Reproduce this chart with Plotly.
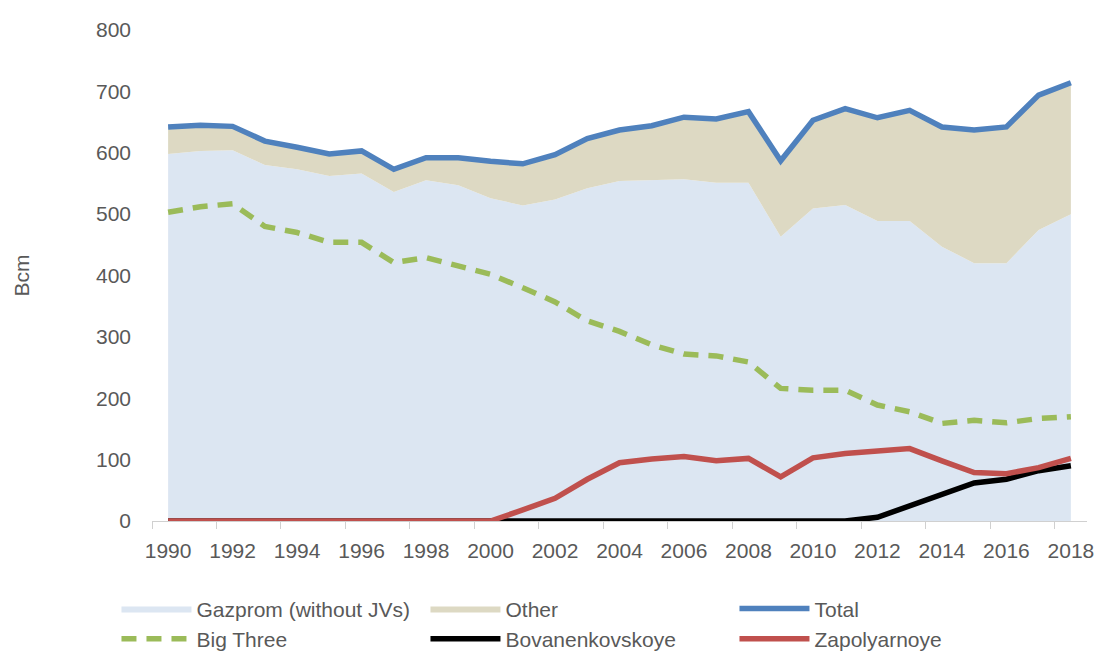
import plotly.graph_objects as go

years = list(range(1990, 2019))

# Bcm
gazprom = [598, 603, 604, 580, 573, 562, 566, 536, 555, 547, 526, 514, 524, 542, 554,
           556, 557, 551, 551, 463, 509, 515, 489, 489, 447, 420, 420, 474, 500]
other = [44, 42, 39, 39, 36, 36, 37, 37, 37, 45, 60, 68, 73, 81, 83,
         88, 101, 104, 116, 124, 144, 157, 168, 180, 195, 217, 222, 220, 214]
total = [642, 645, 643, 619, 609, 598, 603, 573, 592, 592, 586, 582, 597, 623, 637,
         644, 658, 655, 667, 587, 653, 672, 657, 669, 642, 637, 642, 694, 714]
big_three = [503, 512, 517, 480, 470, 454, 454, 421, 429, 415, 402, 380, 357, 326, 309,
             287, 272, 269, 259, 216, 213, 213, 189, 178, 159, 164, 160, 167, 170]
bovanenkovskoye = [0, 0, 0, 0, 0, 0, 0, 0, 0, 0, 0, 0, 0, 0, 0,
                   0, 0, 0, 0, 0, 0, 0, 6, 24, 44, 62, 68, 82, 90]
zapolyarnoye = [0, 0, 0, 0, 0, 0, 0, 0, 0, 0, 0, 18, 37, 68, 95,
                101, 105, 98, 102, 72, 103, 110, 113, 118, 98, 79, 77, 87, 102]

x_labels = [str(y) for y in range(1990, 2019, 2)]

FONT = 'Liberation Sans, Arial, sans-serif'
GREY = '#595959'

fig = go.Figure()

fig.add_trace(go.Scatter(
    x=years, y=gazprom, name='Gazprom (without JVs)', stackgroup='one',
    mode='lines', line=dict(width=0, color='#DCE6F2'), fillcolor='#DCE6F2'
))
fig.add_trace(go.Scatter(
    x=years, y=other, name='Other', stackgroup='one',
    mode='lines', line=dict(width=0, color='#DDD9C3'), fillcolor='#DDD9C3'
))
fig.add_trace(go.Scatter(
    x=years, y=total, name='Total', mode='lines',
    line=dict(color='#4F81BD', width=5.5)
))
fig.add_trace(go.Scatter(
    x=years, y=big_three, name='Big Three', mode='lines',
    line=dict(color='#9BBB59', width=5.5, dash='15px,10px')
))
fig.add_trace(go.Scatter(
    x=years, y=bovanenkovskoye, name='Bovanenkovskoye', mode='lines',
    line=dict(color='#000000', width=5.5)
))
fig.add_trace(go.Scatter(
    x=years, y=zapolyarnoye, name='Zapolyarnoye', mode='lines',
    line=dict(color='#C0504D', width=5.5)
))

fig.update_layout(
    width=1098, height=655,
    paper_bgcolor='white',
    plot_bgcolor='white',
    font=dict(family=FONT, color=GREY, size=21),
    margin=dict(l=152, r=11, t=30, b=134, autoexpand=False),
    xaxis=dict(
        range=[1989.5, 2018.5],
        tickmode='array',
        tickvals=[int(v) for v in x_labels],
        ticktext=x_labels,
        ticks='',
        ticklabelstandoff=11,
        showgrid=False,
        zeroline=False,
        showline=True,
        linecolor='#D0D0D0',
        linewidth=1,
        minor=dict(
            tickvals=[v - 0.5 for v in range(1990, 2019, 2)],
            ticks='outside', ticklen=7, tickcolor='#D0D0D0', showgrid=False
        ),
        tickfont=dict(size=21, color=GREY)
    ),
    yaxis=dict(
        range=[0, 800],
        dtick=100,
        showgrid=False,
        zeroline=False,
        showline=False,
        ticks='',
        ticklabelstandoff=20,
        tickfont=dict(size=21, color=GREY),
        title=dict(text='Bcm', font=dict(size=21, color=GREY), standoff=60)
    ),
    legend=dict(
        orientation='h',
        x=-0.038, xanchor='left',
        y=-0.137, yanchor='top',
        entrywidth=224, entrywidthmode='pixels',
        itemwidth=70,
        font=dict(size=21, color=GREY),
        traceorder='normal',
        bgcolor='rgba(0,0,0,0)'
    ),
    showlegend=True
)

# drop the default page margin so the 1098x655 figure fills the window exactly
fig.write_html("out.html", config={'displayModeBar': False},
               post_script="document.body.style.margin='0';")
